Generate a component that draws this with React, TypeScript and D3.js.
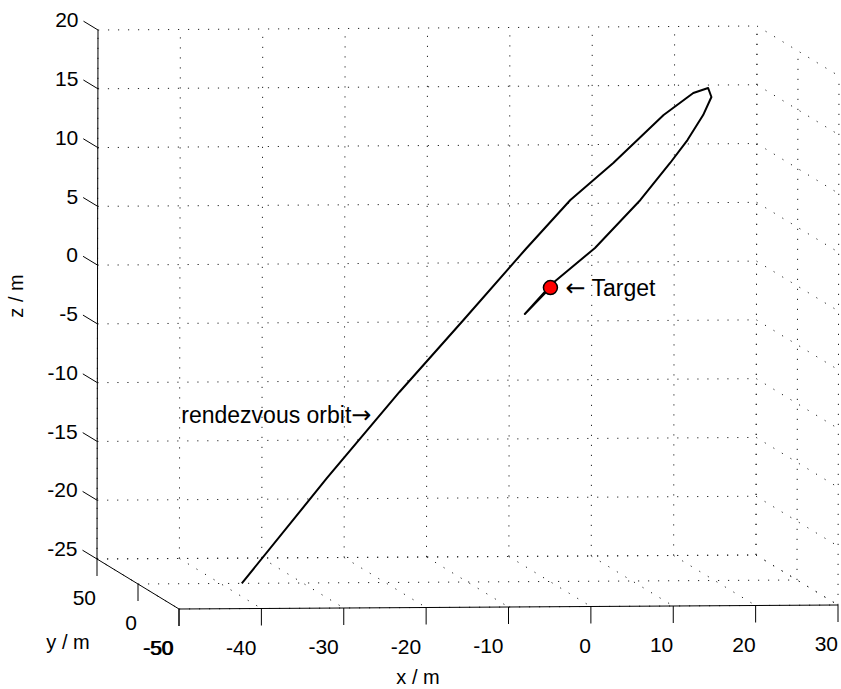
import React from "react";
import * as d3 from "d3";

const xTicks = [-50, -40, -30, -20, -10, 0, 10, 20, 30];
const yTicks = [-50, 0, 50];
const zTicks = [-25, -20, -15, -10, -5, 0, 5, 10, 15, 20];

// chaser path relative to the target (m)
const orbitX = [-37.4, -27.1, -18.3, -10.6, -3.0, 2.4, 7.6, 13.7, 17.3, 19.1, 19.5, 18.5, 16.6, 14.5, 10.9, 5.4, 0.3, -3.1, 0];
const orbitY = [0, 0, 0, 0, 0, 0, 0, 0, 0, 0, 0, 0, 0, 0, 0, 0, 0, 0, 0];
const orbitZ = [-25, -16.1, -8.8, -2.75, 3.3, 7.44, 10.57, 14.62, 16.48, 16.9, 16.13, 14.6, 12.48, 10.54, 7.41, 3.35, 0.39, -2.23, 0];

const target = [0, 0, 0];
const orbitNote = { x: -21.7, y: 0, z: -10.7, text: "rendezvous orbit" };

const W = 841;
const H = 689;
const font = "'Liberation Sans', Arial, sans-serif";
const arrowFont = "'DejaVu Sans', sans-serif";

// axis box as it lands on the screen
const tx = d3.scaleLinear().domain([-50, 30]).range([0, 1]);
const ty = d3.scaleLinear().domain([-50, 50]).range([0, 1]);
const tz = d3.scaleLinear().domain([-25, 20]).range([0, 1]);
const origin = [179, 609];
const ex = [659, -4];
const ey = [-82, -50];
const ez = [1, -529];

const proj = (x: number, y: number, z: number): [number, number] => {
  const a = tx(x), b = ty(y), c = tz(z);
  return [
    origin[0] + a * ex[0] + b * ey[0] + c * ez[0],
    origin[1] + a * ex[1] + b * ey[1] + c * ez[1],
  ];
};

const seg = (p: [number, number], q: [number, number]) => `M${p[0]},${p[1]}L${q[0]},${q[1]}`;

export default function App() {
  const xs = tx.domain(), ys = ty.domain(), zs = tz.domain();

  // dotted grid on the back wall, right wall and floor
  const grid: string[] = [];
  xTicks.forEach((x) => {
    grid.push(seg(proj(x, ys[1], zs[0]), proj(x, ys[1], zs[1])));
    grid.push(seg(proj(x, ys[1], zs[0]), proj(x, ys[0], zs[0])));
  });
  zTicks.forEach((z) => {
    grid.push(seg(proj(xs[0], ys[1], z), proj(xs[1], ys[1], z)));
    grid.push(seg(proj(xs[1], ys[1], z), proj(xs[1], ys[0], z)));
  });
  yTicks.forEach((y) => {
    grid.push(seg(proj(xs[0], y, zs[0]), proj(xs[1], y, zs[0])));
    grid.push(seg(proj(xs[1], y, zs[0]), proj(xs[1], y, zs[1])));
  });

  const pts = orbitX.map((x, i) => proj(x, orbitY[i], orbitZ[i]));
  const line = d3.line<[number, number]>().x((d) => d[0]).y((d) => d[1]);
  const tgt = proj(target[0], target[1], target[2]);
  const note = proj(orbitNote.x, orbitNote.y, orbitNote.z);

  return (
    <svg width={W} height={H} style={{ position: "absolute", left: 0, top: 0, background: "#fff" }} fontFamily={font}>
      <g stroke="#222" strokeWidth={1} strokeDasharray="1.2 8.8" fill="none">
        {grid.map((d, i) => (
          <path key={i} d={d} />
        ))}
      </g>

      {/* axes */}
      <g stroke="#000" strokeWidth={1} fill="none">
        <path d={seg(proj(xs[0], ys[1], zs[0]), proj(xs[0], ys[1], zs[1]))} />
        <path d={seg(proj(xs[0], ys[0], zs[0]), proj(xs[0], ys[1], zs[0]))} />
        <path d={seg(proj(xs[0], ys[0], zs[0]), proj(xs[1], ys[0], zs[0]))} />
      </g>

      {/* x ticks */}
      {xTicks.map((v) => {
        const p = proj(v, ys[0], zs[0]);
        return (
          <g key={"x" + v}>
            <line x1={p[0]} y1={p[1]} x2={p[0]} y2={p[1] + 17} stroke="#000" />
            <text x={p[0] - (v < 0 ? 5 : 0)} y={p[1] + 46} textAnchor="end" fontSize={21}>
              {v}
            </text>
          </g>
        );
      })}

      {/* y ticks; the -50 label sits on top of the x -50 label as in the original */}
      {yTicks.map((v) => {
        const p = proj(xs[0], v, zs[0]);
        return (
          <g key={"y" + v}>
            <line x1={p[0]} y1={p[1]} x2={p[0]} y2={p[1] + 17} stroke="#000" />
            <text x={p[0] - (v < 0 ? 6 : 1)} y={p[1] + 45.5} textAnchor="end" fontSize={21}>
              {v}
            </text>
          </g>
        );
      })}

      {/* z ticks */}
      {zTicks.map((v) => {
        const p = proj(xs[0], ys[1], v);
        const e = [p[0] - 14.5, p[1] - 8.8];
        return (
          <g key={"z" + v}>
            <line x1={p[0]} y1={p[1]} x2={e[0]} y2={e[1]} stroke="#000" />
            <text x={e[0] - 5} y={e[1] + 6} textAnchor="end" fontSize={21}>
              {v}
            </text>
          </g>
        );
      })}

      <text x={418} y={684} textAnchor="middle" fontSize={20}>x / m</text>
      <text x={68} y={649} textAnchor="middle" fontSize={20}>y / m</text>
      <text transform="translate(23,296) rotate(-90)" textAnchor="middle" fontSize={20}>z / m</text>

      <path d={line(pts) ?? ""} fill="none" stroke="#000" strokeWidth={2} strokeLinejoin="round" />

      <circle cx={tgt[0]} cy={tgt[1]} r={7} fill="#ff0000" stroke="#000" strokeWidth={1.5} />
      <text x={tgt[0] + 15} y={tgt[1] + 8} fontSize={23}>
        <tspan fontFamily={arrowFont} fontSize={24}>{"\u2190"}</tspan>
        <tspan dx={6}>Target</tspan>
      </text>

      <text x={note[0]} y={note[1]} dy="0.35em" textAnchor="end" fontSize={23}>
        {orbitNote.text}
        <tspan fontFamily={arrowFont} fontSize={24}>{"\u2192"}</tspan>
      </text>
    </svg>
  );
}
